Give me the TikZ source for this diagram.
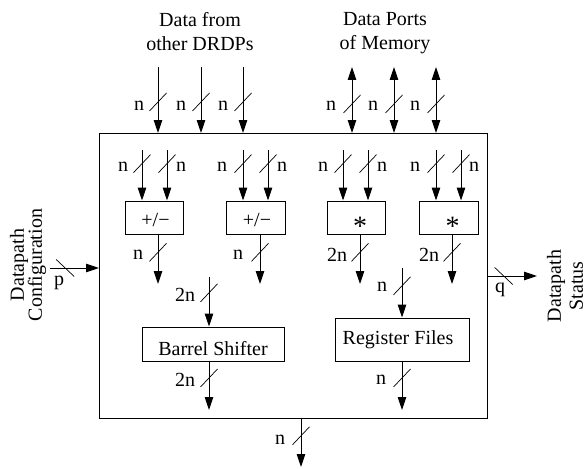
\documentclass[tikz,border=0pt]{standalone}
\usepackage{fontspec}
\setmainfont{Liberation Serif}
\usetikzlibrary{arrows.meta,decorations.markings}

\tikzset{
  x=1pt, y=1pt,
  txt/.style={font=\fontsize{20}{20}\selectfont, inner sep=0pt},
  blk/.style={draw, line width=1pt, inner sep=0pt, font=\fontsize{20}{20}\selectfont},
  sig/.style={line width=1pt, -{Triangle[length=13pt,width=8.5pt]}},
  bidir/.style={line width=1pt, {Triangle[length=13pt,width=8.5pt]}-{Triangle[length=13pt,width=8.5pt]}},
  % bus-width slash across a connector, placed at a fraction of its length
  bus/.style={postaction={decorate, decoration={markings,
      mark=at position #1 with {\draw[line width=0.7pt,-] (-9,8.5) -- (9,-8.5);}}}},
}
% text placed with its baseline at a given offset below the node centre
\newcommand\dropped[2]{\raisebox{-#1}[0pt][0pt]{#2}}

\begin{document}
\begin{tikzpicture}
\useasboundingbox (0,0) rectangle (588,-468);

% datapath block and its units
\node[blk, minimum width=388, minimum height=285, anchor=north west] (dp) at (99,-133) {};
\node[blk, minimum width=58, minimum height=33] (add1) at (154,-217.5) {\dropped{9pt}{\hspace{3pt}+/−}};
\node[blk, minimum width=59, minimum height=33] (add2) at (255.5,-217.5) {\dropped{9pt}{\hspace{3pt}+/−}};
\node[blk, minimum width=58, minimum height=33] (mul1) at (356,-217.5) {\dropped{18pt}{\hspace{8pt}\scalebox{1.4}{*}}};
\node[blk, minimum width=59, minimum height=33] (mul2) at (448.5,-217.5) {\dropped{18pt}{\hspace{8pt}\scalebox{1.4}{*}}};
\node[blk, minimum width=142, minimum height=34] (bsh) at (213,-344) {\dropped{11pt}{Barrel Shifter}};
\node[blk, minimum width=134, minimum height=43] (rf) at (402,-339.5) {\dropped{4.5pt}{Register Files\hspace{8pt}}};

% headings
\node[txt, align=center, anchor=north] (hin) at (200,-12) {Data from\\[4pt]other DRDPs};
\node[txt, align=center, anchor=north] (hmem) at (385,-12) {Data Ports\\[4pt]of Memory};
\node[txt, align=center, rotate=90] (hcfg) at (28,-265) {Datapath\\[-2pt]Configuration};
\node[txt, align=center, rotate=90] (hst) at (565,-286) {Datapath\\[2pt]Status};

% free ends of the connectors
\foreach \n/\x in {a/158, b/201, c/243} \coordinate (in\n) at (\x,-67);
\foreach \n/\x in {a/352, b/394, c/436} \coordinate (mem\n) at (\x,-67);
\foreach \n/\x in {a/142, b/167, c/243, d/268, e/343, f/368, g/436, h/461}
  \coordinate (u\n) at (\x,-150);
\foreach \n/\x in {a/158, b/260, c/360, d/452} \coordinate (o\n) at (\x,-284);
\coordinate (bshin) at (209,-277);
\coordinate (rfin) at (402,-268);
\coordinate (bshout) at (209,-410);
\coordinate (rfout) at (402,-410);
\coordinate (dpout) at (301,-467);
\coordinate (cfg) at (50,-268);
\coordinate (st) at (537,-276);

% inputs from other DRDPs and memory ports
\foreach \n in {a,b,c} {
  \draw[sig, bus=0.53] (in\n) -- (in\n |- dp.north);
  \draw[bidir, bus=0.56] (mem\n) -- (mem\n |- dp.north);
}

% operands into the arithmetic units
\draw[sig, bus=0.27] (ua) -- (ua |- add1.north);
\draw[sig, bus=0.27] (ub) -- (ub |- add1.north);
\draw[sig, bus=0.27] (uc) -- (uc |- add2.north);
\draw[sig, bus=0.27] (ud) -- (ud |- add2.north);
\draw[sig, bus=0.27] (ue) -- (ue |- mul1.north);
\draw[sig, bus=0.27] (uf) -- (uf |- mul1.north);
\draw[sig, bus=0.27] (ug) -- (ug |- mul2.north);
\draw[sig, bus=0.27] (uh) -- (uh |- mul2.north);

% results of the arithmetic units
\draw[sig, bus=0.36] (oa |- add1.south) -- (oa);
\draw[sig, bus=0.36] (ob |- add2.south) -- (ob);
\draw[sig, bus=0.36] (oc |- mul1.south) -- (oc);
\draw[sig, bus=0.36] (od |- mul2.south) -- (od);

% shifter and register file
\draw[sig, bus=0.32] (bshin) -- (bshin |- bsh.north);
\draw[sig, bus=0.36] (rfin) -- (rfin |- rf.north);
\draw[sig, bus=0.34] (bshout |- bsh.south) -- (bshout);
\draw[sig, bus=0.34] (rfout |- rf.south) -- (rfout);

% block output, configuration and status
\draw[sig, bus=0.35] (dpout |- dp.south) -- (dpout);
\draw[sig, bus=0.31] (cfg) -- (cfg -| dp.west);
\draw[sig, bus=0.32] (st -| dp.east) -- (st);

% bus widths
\foreach \n/\x in {1/139, 2/181, 3/223, 4/331, 5/373, 6/415}
  \node[txt] (wt\n) at (\x,-106) {n};
\foreach \n/\x in {1/123, 2/181, 3/222, 4/282, 5/323, 6/382, 7/415, 8/474}
  \node[txt] (wu\n) at (\x,-167) {n};
\node[txt] (wo1) at (138,-255) {n};
\node[txt] (wo2) at (238,-255) {n};
\node[txt] (wo3) at (337,-255) {2n};
\node[txt] (wo4) at (429,-255) {2n};
\node[txt] (wbi) at (185,-295) {2n};
\node[txt] (wri) at (382,-287) {n};
\node[txt] (wbo) at (185,-380) {2n};
\node[txt] (wro) at (381,-380) {n};
\node[txt] (wdp) at (280,-440) {n};
\node[txt] (wp) at (59,-283) {p};
\node[txt] (wq) at (500,-290) {q};
\end{tikzpicture}
\end{document}
